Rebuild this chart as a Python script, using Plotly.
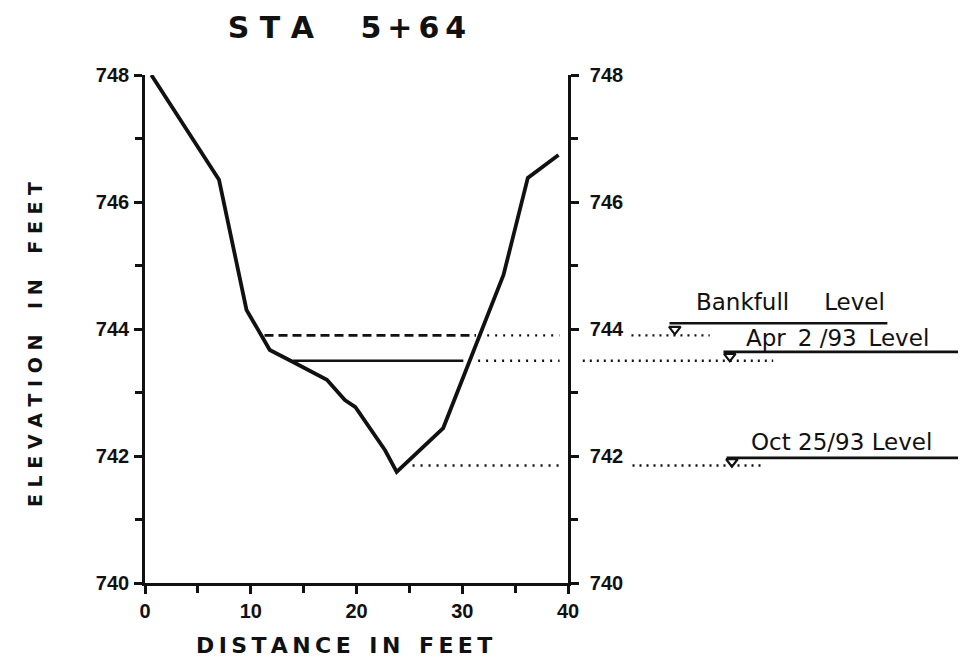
import plotly.graph_objects as go

# ---------------- data ----------------
distance_ft = [0.6, 7.0, 9.6, 11.8, 14.0, 17.2, 18.9, 19.9, 22.7, 23.8, 28.2, 33.9, 36.2, 39.1]
elevation_ft = [748.0, 746.35, 744.30, 743.67, 743.48, 743.20, 742.88, 742.77, 742.09, 741.75,
                742.44, 744.85, 746.38, 746.74]

level_names = ["Bankfull\u2003\u2009 Level", "Apr\u2009 2 /93\u2009 Level", "Oct 25/93 Level"]
level_elev = [743.90, 743.50, 741.85]

x_ticks = [0, 10, 20, 30, 40]
y_ticks = [740, 742, 744, 746, 748]

# ---------------- layout helpers (positions, not data) ----------------
W, H = 961, 669
ML, MR, MT, MB = 145, 3, 75, 86
PW, PH = W - ML - MR, H - MT - MB
X_MAX = 40
PLOT_DOMAIN_END = 423 / PW
RIGHT_EXT = X_MAX + (PW - 423) / (423 / X_MAX)   # continuation of feet scale to the right

# in-plot level line extents: (solid/dashed start, solid/dashed end, dotted start, dotted end)
inplot = [
    (11.3, 31.3, 31.6, 39.2),   # bankfull: dashed + dotted
    (14.0, 30.1, 31.5, 39.2),   # Apr: solid + dotted
    (None, None, 25.3, 39.4),   # Oct: dotted only
]
# outside marker geometry: (dotted start, dotted end, triangle x, solid start, solid end, text x, text y offset)
outside = [
    (46.0, 53.4, 50.1, 49.6, 70.2, 61.0, 0.52),
    (41.4, 59.4, 55.3, 54.7, 76.9, 65.5, 0.36),
    (46.1, 58.6, 55.5, 55.0, 76.9, 65.9, 0.37),
]
SOLID_OFFSET = [0.19, 0.14, 0.12]

INK = "#111111"
FONT = "DejaVu Sans"
NUMFONT = "Liberation Sans Narrow, Liberation Sans, DejaVu Sans"

fig = go.Figure()

# channel profile
fig.add_trace(go.Scatter(x=distance_ft, y=elevation_ft, mode="lines",
                         line=dict(color=INK, width=3.8), xaxis="x", yaxis="y",
                         showlegend=False, hoverinfo="skip"))

for i, lev in enumerate(level_elev):
    s0, s1, d0, d1 = inplot[i]
    if s0 is not None:
        fig.add_trace(go.Scatter(x=[s0, s1], y=[lev, lev], mode="lines",
                                 line=dict(color=INK, width=2.6,
                                           dash="9px,5px" if i == 0 else "solid"),
                                 xaxis="x", yaxis="y", showlegend=False, hoverinfo="skip"))
    fig.add_trace(go.Scatter(x=[d0, d1], y=[lev, lev], mode="lines",
                             line=dict(color=INK, width=2.4, dash="2px,6px"),
                             xaxis="x", yaxis="y", showlegend=False, hoverinfo="skip"))

    o_d0, o_d1, tri_x, o_s0, o_s1, txt_x, txt_dy = outside[i]
    top = lev + SOLID_OFFSET[i]
    fig.add_trace(go.Scatter(x=[o_d0, o_d1], y=[lev, lev], mode="lines",
                             line=dict(color=INK, width=2.4, dash="2px,5px"),
                             xaxis="x2", yaxis="y", showlegend=False, hoverinfo="skip"))
    fig.add_trace(go.Scatter(x=[o_s0, o_s1], y=[top, top], mode="lines",
                             line=dict(color=INK, width=2.6),
                             xaxis="x2", yaxis="y", showlegend=False, hoverinfo="skip"))
    fig.add_trace(go.Scatter(x=[tri_x], y=[(lev + top) / 2], mode="markers",
                             marker=dict(symbol="triangle-down-open", size=10,
                                         color=INK, line=dict(width=2.2, color=INK)),
                             xaxis="x2", yaxis="y", showlegend=False, hoverinfo="skip",
                             cliponaxis=False))
    fig.add_annotation(x=txt_x, y=lev + txt_dy, xref="x2", yref="y",
                       text=level_names[i], showarrow=False,
                       font=dict(family=FONT, size=23, color=INK, weight=500))

# axis titles as annotations (placed in pixels relative to the plot area)
fig.add_annotation(x=(344 - ML) / PW, y=0, xref="paper", yref="paper", yshift=-(645 - (H - MB)),
                   text="D\u2009I\u2009S\u2009T\u2009A\u2009N\u2009C\u2009E\u2002 I\u2009N\u2002 F\u2009E\u2009E\u2009T",
                   showarrow=False, xanchor="center", yanchor="middle",
                   font=dict(family=FONT, size=22, color=INK, weight=600))
fig.add_annotation(x=0, y=((H - MB) - 345) / PH, xref="paper", yref="paper", xshift=35 - ML,
                   text="E L E V A T I O N\u2003 I N\u2003 F E E T", textangle=-90,
                   showarrow=False, xanchor="center", yanchor="middle",
                   font=dict(family=FONT, size=19, color=INK, weight=600))

axis_common = dict(showline=True, linecolor=INK, linewidth=2.6, ticks="outside",
                   tickcolor=INK, tickwidth=2.6, ticklen=8, showgrid=False, zeroline=False,
                   automargin=False,
                   tickfont=dict(family=NUMFONT, size=20, color=INK, weight="bold"))

fig.update_layout(
    width=W, height=H,
    margin=dict(l=ML, r=MR, t=MT, b=MB),
    paper_bgcolor="white", plot_bgcolor="white",
    title=dict(text="S T A\u2003\u2009 5\u2009+\u20096\u20094", x=347 / W, xanchor="center",
               y=1 - 27 / H, yanchor="middle", automargin=False,
               font=dict(family=FONT, size=30, color=INK, weight="bold")),
    xaxis=dict(domain=[0, PLOT_DOMAIN_END], range=[0, X_MAX], tickvals=x_ticks,
               anchor="y", ticklabelstandoff=0,
               minor=dict(ticks="outside", dtick=5, ticklen=7, tickwidth=2.6, tickcolor=INK),
               **axis_common),
    xaxis2=dict(domain=[PLOT_DOMAIN_END, 1], range=[X_MAX, RIGHT_EXT], visible=False,
                anchor="y"),
    yaxis=dict(range=[740, 748], tickvals=y_ticks, anchor="x", side="left",
               minor=dict(ticks="outside", dtick=1, ticklen=7, tickwidth=2.6, tickcolor=INK),
               ticklabelstandoff=1,
               **axis_common),
    yaxis2=dict(range=[740, 748], tickvals=y_ticks, anchor="x", side="right",
                overlaying="y", ticklabelstandoff=7,
                minor=dict(ticks="outside", dtick=1, ticklen=7, tickwidth=2.6, tickcolor=INK),
                **axis_common),
)

# attach a dummy trace to yaxis2 so it renders
fig.add_trace(go.Scatter(x=[None], y=[None], xaxis="x", yaxis="y2", showlegend=False,
                         hoverinfo="skip"))

fig.write_html("out.html", config={"displayModeBar": False},
               post_script="document.body.style.margin='0';")
